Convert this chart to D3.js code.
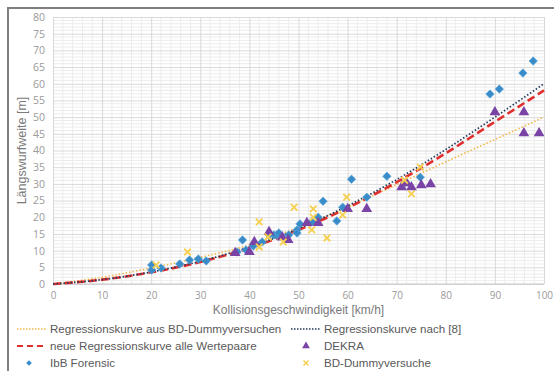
<!DOCTYPE html>
<html>
<head>
<meta charset="utf-8">
<script src="https://cdn.jsdelivr.net/npm/d3@7"></script>
<style>
  body { margin: 0; background: #fff; }
  text { font-family: "Liberation Sans", Arial, sans-serif; }
</style>
</head>
<body>
<div id="chart"></div>
<script>
// values
const curveSpeed = [0, 10, 20, 30, 40, 50, 60, 70, 80, 90, 100];
const curveBD = [0, 2.0, 4.8, 8.0, 11.7, 17.0, 23.0, 29.8, 36.6, 43.3, 50];
const curveRef8 = [0, 1.3, 3.6, 6.8, 11.1, 16.6, 23.4, 31.3, 40.3, 50, 60];
const curveNew = [0, 1.3, 3.5, 6.6, 10.8, 16.2, 22.8, 30.5, 39.2, 48.6, 58];

const ibbSpeed = [20.1, 20.1, 22, 25.8, 27.8, 29.6, 31.2, 37.5, 38.6, 39.3, 40.8, 42.6, 44, 45.6,
  45, 46, 48, 49.7, 49.7, 50.3, 52.7, 54, 55, 57.8, 59, 60.8, 63.9, 68, 71.8, 74.8, 89, 90.9, 95.7, 97.8];
const ibbDist = [5.7, 4.2, 4.8, 6, 7.2, 7.5, 6.9, 9.6, 13.2, 10.2, 11.4, 12.6, 14.7, 14.7,
  14.7, 15.3, 14.7, 16.2, 15.3, 18, 18.6, 20, 24.8, 18.9, 23, 31.4, 26, 32.3, 30.5, 32, 56.9, 58.4, 63.2, 66.8];

const dekraSpeed = [37.1, 40, 41, 44, 46.7, 47.9, 51.7, 54, 60, 63.9, 71, 72, 73, 75, 76.9, 90, 95.9, 95.9, 99];
const dekraDist = [9.3, 9.6, 12.6, 15.6, 14, 13.2, 18.3, 18.3, 22.5, 22.5, 29, 30.2, 29, 29.6, 29.9, 51.5, 51.5, 45.2, 45.2];

const bdSpeed = [21, 27.4, 42, 42, 43.8, 46.9, 49.1, 53, 53, 52.7, 55.8, 59, 59.8, 71.6, 73, 74.8];
const bdDist = [5.7, 9.6, 18.6, 11.1, 14.1, 12.6, 23, 22.5, 20, 16.2, 13.8, 20.7, 26, 31.1, 27, 35];

const xTicks = d3.range(0, 101, 10);
const yTicks = d3.range(0, 81, 5);

const legendRows = [
  { key: "bdCurve", label: "Regressionskurve aus BD-Dummyversuchen", col: 0, row: 0 },
  { key: "ref8", label: "Regressionskurve nach [8]", col: 1, row: 0 },
  { key: "newCurve", label: "neue Regressionskurve alle Wertepaare", col: 0, row: 1 },
  { key: "dekra", label: "DEKRA", col: 1, row: 1 },
  { key: "ibb", label: "IbB Forensic", col: 0, row: 2 },
  { key: "bd", label: "BD-Dummyversuche", col: 1, row: 2 },
];

const colors = {
  bdCurve: "#f2b84b",
  ref8: "#243a5e",
  newCurve: "#e0302e",
  ibb: "#3a8cc9",
  dekra: "#7a44a6",
  bd: "#f7cf4f",
};

const W = 554, H = 371;
const svg = d3.select("#chart").append("svg").attr("width", W).attr("height", H);

svg.append("rect").attr("width", W).attr("height", H).attr("fill", "#fff");
// chart frame
svg.append("rect")
  .attr("x", 8).attr("y", 8).attr("width", 560).attr("height", 380)
  .attr("fill", "none").attr("stroke", "#7f7f7f").attr("stroke-width", 2);

const x = d3.scaleLinear().domain([0, 100]).range([53, 544]);
const y = d3.scaleLinear().domain([0, 80]).range([284, 17]);

// minor gridlines
const grid = svg.append("g");
grid.selectAll("line.minx").data(d3.range(0, 101, 2).filter((d) => d % 10 != 0)).join("line")
  .attr("x1", (d) => x(d)).attr("x2", (d) => x(d)).attr("y1", y(0)).attr("y2", y(80))
  .attr("stroke", "#ececec").attr("stroke-width", 1);
grid.selectAll("line.miny").data(d3.range(0, 81, 1).filter((d) => d % 5 != 0)).join("line")
  .attr("x1", x(0)).attr("x2", x(100)).attr("y1", (d) => y(d)).attr("y2", (d) => y(d))
  .attr("stroke", "#ececec").attr("stroke-width", 1);

// major gridlines and tick labels via axes
svg.append("g")
  .attr("transform", `translate(0,${y(0)})`)
  .call(d3.axisBottom(x).tickValues(xTicks).tickSize(-(y(0) - y(80))).tickPadding(8))
  .call((g) => g.select(".domain").remove())
  .call((g) => g.selectAll(".tick line").attr("stroke", "#d9d9d9"))
  .call((g) => g.selectAll(".tick text").attr("fill", "#9a9a9a")
    .style("font-family", "'Open Sans', sans-serif").style("font-size", "10px"));

svg.append("g")
  .attr("transform", `translate(${x(0)},0)`)
  .call(d3.axisLeft(y).tickValues(yTicks).tickSize(-(x(100) - x(0))).tickPadding(8))
  .call((g) => g.select(".domain").remove())
  .call((g) => g.selectAll(".tick line").attr("stroke", "#d9d9d9"))
  .call((g) => g.selectAll(".tick text").attr("fill", "#9a9a9a")
    .style("font-family", "'Open Sans', sans-serif").style("font-size", "10.5px"));

// x axis line
svg.append("line")
  .attr("x1", x(0)).attr("x2", x(100)).attr("y1", y(0)).attr("y2", y(0))
  .attr("stroke", "#c8c8c8");

// axis titles
svg.append("text")
  .attr("x", (x(0) + x(100)) / 2).attr("y", 314)
  .attr("text-anchor", "middle").attr("fill", "#7a7a7a").style("font-size", "12px")
  .text("Kollisionsgeschwindigkeit [km/h]");
svg.append("text")
  .attr("transform", `translate(26,${(y(0) + y(80)) / 2}) rotate(-90)`)
  .attr("text-anchor", "middle").attr("fill", "#7a7a7a").style("font-size", "12.5px")
  .text("Längswurfweite [m]");

// regression curves
const line = d3.line()
  .x((d) => x(d[0]))
  .y((d) => y(d[1]))
  .curve(d3.curveMonotoneX);

const curves = [
  { key: "bdCurve", values: curveBD, width: 1.6, dash: "1.5,2" },
  { key: "newCurve", values: curveNew, width: 2.6, dash: "8,4" },
  { key: "ref8", values: curveRef8, width: 1.7, dash: "1.5,2" },
];

svg.append("g").selectAll("path").data(curves).join("path")
  .attr("fill", "none")
  .attr("stroke", (d) => colors[d.key])
  .attr("stroke-width", (d) => d.width)
  .attr("stroke-dasharray", (d) => d.dash)
  .attr("d", (d) => line(curveSpeed.map((v, i) => [v, d.values[i]])));

// markers
const diamond = d3.symbol().type(d3.symbolSquare).size(36);
const triangle = d3.symbol().type(d3.symbolTriangle).size(50);
const cross = (s) => `M${-s},${-s}L${s},${s}M${-s},${s}L${s},${-s}`;

svg.append("g").selectAll("path").data(d3.zip(ibbSpeed, ibbDist)).join("path")
  .attr("d", diamond)
  .attr("transform", (d) => `translate(${x(d[0])},${y(d[1])}) rotate(45)`)
  .attr("fill", colors.ibb).attr("stroke", "#5aa6da").attr("stroke-width", 0.6);

svg.append("g").selectAll("path").data(d3.zip(dekraSpeed, dekraDist)).join("path")
  .attr("d", triangle)
  .attr("transform", (d) => `translate(${x(d[0])},${y(d[1])})`)
  .attr("fill", colors.dekra);

svg.append("g").selectAll("path").data(d3.zip(bdSpeed, bdDist)).join("path")
  .attr("d", cross(3.3))
  .attr("transform", (d) => `translate(${x(d[0])},${y(d[1])})`)
  .attr("fill", "none").attr("stroke", colors.bd).attr("stroke-width", 1.8);

// legend
const colX = [17, 291];
const rowY = [329, 346, 363];
const legend = svg.append("g");
const items = legend.selectAll("g").data(legendRows).join("g")
  .attr("transform", (d) => `translate(${colX[d.col]},${rowY[d.row]})`);

items.each(function (d) {
  const g = d3.select(this);
  if (d.key == "bdCurve" || d.key == "ref8") {
    g.append("line").attr("x1", 0).attr("x2", 30)
      .attr("stroke", colors[d.key]).attr("stroke-width", 1.3).attr("stroke-dasharray", "1.5,1.5");
  } else if (d.key == "newCurve") {
    g.append("line").attr("x1", 0).attr("x2", 30)
      .attr("stroke", colors[d.key]).attr("stroke-width", 2.2).attr("stroke-dasharray", "6,4");
  } else if (d.key == "dekra") {
    g.append("path").attr("d", d3.symbol().type(d3.symbolTriangle).size(26))
      .attr("transform", "translate(15,0)").attr("fill", colors.dekra);
  } else if (d.key == "ibb") {
    g.append("path").attr("d", d3.symbol().type(d3.symbolSquare).size(16))
      .attr("transform", "translate(12,0) rotate(45)").attr("fill", colors.ibb);
  } else {
    g.append("path").attr("d", cross(2.5)).attr("transform", "translate(15,0)")
      .attr("stroke", colors.bd).attr("stroke-width", 1.5);
  }
  g.append("text").attr("x", 33).attr("dy", "0.35em")
    .attr("fill", "#595959").style("font-size", "11.6px").text(d.label);
});
</script>
</body>
</html>
